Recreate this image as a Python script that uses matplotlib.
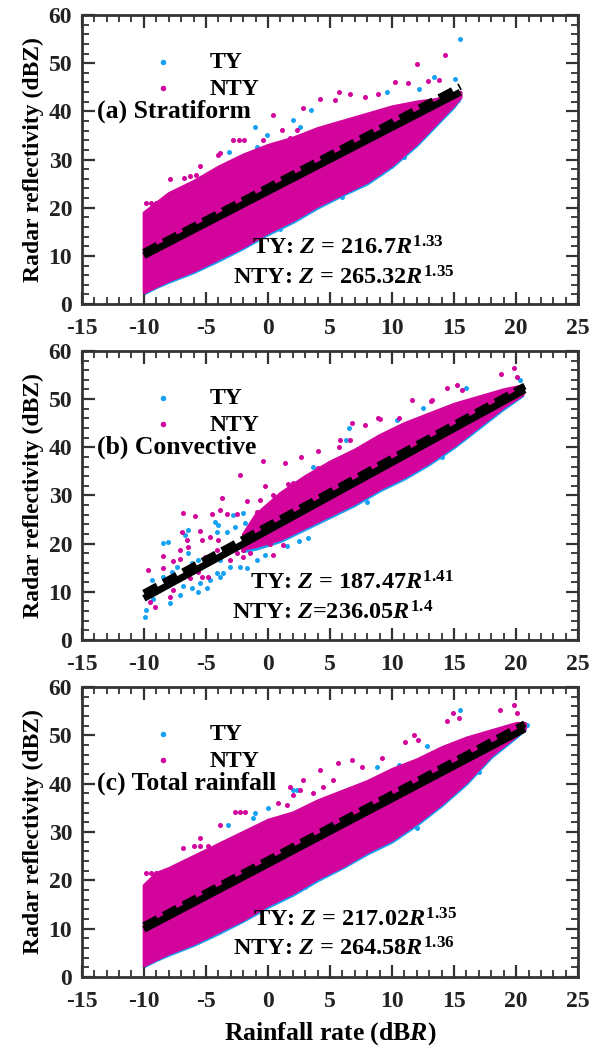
import numpy as np
import matplotlib
matplotlib.use("Agg")
import matplotlib.pyplot as plt
from matplotlib.ticker import MultipleLocator

plt.rcParams["font.family"] = ["Liberation Serif", "DejaVu Serif"]
plt.rcParams["font.weight"] = "bold"
plt.rcParams["axes.labelweight"] = "bold"
plt.rcParams["axes.unicode_minus"] = False
plt.rcParams["mathtext.fontset"] = "custom"
plt.rcParams["mathtext.rm"] = "Liberation Serif:bold"
plt.rcParams["mathtext.bf"] = "Liberation Serif:bold"
plt.rcParams["mathtext.it"] = "Liberation Serif:italic:bold"

TY_COLOR = "#17A2F2"
NTY_COLOR = "#D2049C"

# ---- (a) Stratiform: dense cloud envelopes (dBR -> dBZ)
a_band_x = [-10, -9, -8, -6, -4, -2, 0, 2, 4, 6, 8, 10, 12, 13.5, 15, 15.5]
a_ty_hi = [18.5, 20.5, 22.5, 25, 28, 30.5, 32.5, 34, 36, 37.5, 39, 40.5, 41.5, 42.5, 43.5, 44]
a_ty_lo = [2.2, 3.5, 4.6, 6.6, 9.0, 11.6, 14.5, 17.0, 20.0, 22.6, 25.0, 28.5, 33.0, 37.0, 41.0, 42.8]
a_nty_hi = [19, 21, 23, 25.5, 28.5, 31, 33, 34.5, 36.5, 38, 39.5, 41, 42, 42.5, 43.5, 44]
a_nty_lo = [2.5, 3.8, 5, 7, 9.5, 12, 15, 17.5, 20.5, 23, 25.5, 29, 33.5, 37.5, 41.5, 43]
# scattered points outside the dense cloud
a_ty_x = [-3.1, -2.3, -0.9, -0.1, -1.05, 2.0, 2.6, 3.5, 9.6, 12.2, 13.4, 15.1, 15.3, 15.5,
          -4.5, 1.0, 6.0, 11.0]
a_ty_y = [31.6, 29.4, 32.6, 35.1, 36.7, 38.3, 36.8, 40.2, 44.0, 44.7, 47.2, 46.7, 42.3, 55.0,
          9.2, 15.6, 22.2, 30.6]
a_nty_x = [-9.8, -9.4, -9.0, -8.6, -7.9, -6.8, -6.3, -5.8, -5.5, -4.8, -4.0, -3.9, -2.8,
           -2.3, -1.9, -0.4, 0.4, 1.1, 1.8, 2.3, 2.8, 4.2, 5.4, 5.7, 6.6, 7.8, 8.9, 10.2,
           11.3, 12.0, 12.9, 13.8, 14.3]
a_nty_y = [20.9, 20.9, 20.9, 20.9, 26.0, 26.1, 26.5, 26.8, 28.6, 26.8, 31.0, 31.3, 34.0,
           34.0, 34.0, 34.0, 39.3, 36.1, 34.4, 36.1, 40.6, 42.6, 42.3, 44.0, 43.7, 43.0, 43.6,
           46.0, 45.8, 49.8, 46.4, 46.5, 51.6]

# ---- (b) Convective
b_band_x = [-2, -1, 1, 3, 5, 7, 9, 11, 13, 15, 17, 19, 20.5]
b_ty_hi = [21.5, 25, 29, 32.5, 35.5, 38.5, 41, 43.5, 46, 48, 50, 51.5, 52.5]
b_ty_lo = [18.4, 18.9, 20.5, 23, 25.5, 28, 31, 33.5, 36.5, 40, 44, 48, 50.7]
b_nty_hi = [22, 26, 30.5, 34, 37, 39.5, 42.5, 45, 47, 49, 50.5, 52, 52.8]
b_nty_lo = [19, 19.5, 21, 23.5, 26, 28.5, 31.5, 34, 37, 40.5, 44.5, 48.5, 51]
b_ty_x = [-9.92, -9.79, -9.25, -9.52, -8.98, -9.38, -8.44, -8.17, -7.9, -7.1, -6.83, -6.16,
          -7.77, -7.37, -6.16, -6.43, -5.62, -8.44, -8.04, -6.69, -6.43, -4.28, -4.01, -4.14,
          -3.33, -2.8, -2.66, -1.86, -3.87, -3.07, -2.26, -1.72, -0.92, -0.24, -4.14, -3.6,
          -5.49, -4.95, -5.62, 0.16, 0.70, 0.97, 1.5, 1.5, -1.45, -1.99, -3.87, -4.68,
          12.5, 10.4, 6.5, 3.66, 7.55, 16.0, 20.3, 3.25, 6.3, 2.5, 8.0, 14.0]
b_ty_y = [4.8, 6.2, 8.6, 10.0, 10.4, 12.4, 13.1, 11.1, 7.6, 9.3, 11.1, 10.7,
          14.2, 15.2, 15.9, 18.0, 16.6, 20.1, 20.4, 21.8, 22.8, 24.5, 23.9, 22.5,
          22.5, 25.9, 23.5, 24.2, 16.6, 15.2, 15.2, 14.9, 16.6, 17.6, 13.8, 13.8,
          11.8, 10.7, 10.0, 28.3, 27.7, 24.2, 24.5, 19.4, 19.4, 26.3, 13.1, 12.4,
          48.1, 45.6, 43.9, 36.0, 39.4, 52.2, 53.9, 21.1, 41.5, 20.6, 28.6, 38.0]
b_nty_x = [-0.38, 1.37, -2.26, 1.64, -0.24, -3.74, -1.72, -6.83, -5.89, -4.54, -3.87, -3.33,
           -2.53, -0.92, -0.65, 0.43, -6.96, -5.49, -5.35, -4.68, -4.01, -6.56, -8.44, -7.1,
           -6.43, -9.65, -8.44, -7.64, -7.1, -5.08, -4.14, -3.33, -2.53, -1.99, -3.07, -1.99,
           -1.45, 0.70, 0.16, 0.43, 1.24, -9.52, -9.11, -7.9, -7.64, -6.29, -5.35, -4.81,
           -5.62, -0.38, 0.97, -1.18,
           19.8, 18.8, 20.1, 14.4, 15.2, 15.6, 11.6, 13.1, 9.0, 6.75, 7.8, 10.6, 5.7, 6.6,
           2.7, 4.06, 3.25, 5.0, 4.06, 5.8, 8.9, 13.2, 2.04, 2.04]
b_nty_y = [37.1, 36.8, 34.2, 32.4, 32.0, 29.5, 28.9, 26.4, 25.7, 26.1, 27.0, 26.1,
           26.1, 26.6, 29.0, 30.1, 22.5, 22.7, 20.7, 21.3, 20.7, 20.7, 17.5, 18.7,
           19.2, 14.5, 14.9, 16.3, 16.9, 17.3, 18.7, 19.0, 18.0, 18.7, 16.6, 17.3,
           18.0, 22.1, 20.0, 17.6, 19.7, 7.9, 6.9, 9.0, 10.4, 12.8, 13.0, 13.1,
           14.2, 21.8, 21.4, 20.0,
           56.4, 55.3, 54.6, 52.2, 52.9, 51.9, 49.8, 49.5, 45.8, 45.1, 44.6, 46.0, 40.1, 41.5,
           38.0, 35.6, 32.5, 36.7, 39.3, 41.5, 46.0, 49.8, 32.5, 30.8]

# ---- (c) Total rainfall
c_band_x = [-10, -9, -8, -6, -4, -2, 0, 2, 4, 6, 8, 10, 12, 14, 16, 18, 20, 20.7]
c_ty_hi = [18.5, 20.5, 22, 24.5, 27, 29.5, 32, 33.5, 36, 38, 40, 42.5, 44.5, 47, 49, 50.5, 52, 52.5]
c_ty_lo = [2.2, 3.5, 4.6, 6.6, 9.0, 11.6, 14.5, 17.0, 20.0, 22.6, 25.5, 28.0, 31.5, 35.5, 40.0, 45.5, 49.6, 51.2]
c_nty_hi = [19, 21.5, 22.5, 25, 27.5, 30, 32.5, 34, 36.5, 38.5, 40.5, 43, 45, 47.5, 49.5, 51, 52.5, 52.5]
c_nty_lo = [2.5, 3.8, 5, 7, 9.5, 12, 15, 17.5, 20.5, 23, 26, 28.5, 32, 36, 40.5, 46, 50, 51.5]
c_ty_x = [-3.2, -1.18, -1.05, 0.03, 2.04, 2.3, 8.8, 10.6, 12.8, 15.5, 20.9, -5.0, 3.0, 12.0, 17.0]
c_ty_y = [31.5, 32.8, 33.9, 34.9, 38.7, 38.7, 43.5, 43.9, 47.7, 55.3, 52.2, 8.0, 18.6, 30.8, 42.4]
c_nty_x = [-9.8, -9.4, -9.0, -8.6, -6.83, -6.0, -5.49, -4.81, -5.49, -3.87, -2.66, -2.26,
           -1.86, 0.83, 1.5, 2.04, 2.58, 2.85, 1.77, 4.2, 5.67, 6.75, 7.55, 9.2, 11.05, 11.8,
           12.1, 14.4, 14.9, 15.4, 18.7, 19.8, 20.1, 5.27, 4.46, 3.66]
c_nty_y = [21.5, 21.5, 21.5, 21.5, 26.7, 27.0, 27.0, 27.1, 28.8, 31.5, 34.2, 34.2,
           34.2, 36.0, 35.6, 37.7, 38.7, 40.8, 39.4, 42.9, 44.2, 44.9, 43.5, 45.3, 48.7, 50.1,
           49.1, 52.9, 54.6, 53.6, 55.3, 56.3, 54.6, 40.8, 39.4, 38.0]

# Z = a R^b fits (TY, NTY) and the end of each fitted line in dBR
fit_a = [(216.7, 1.33), (265.32, 1.35)]
fit_b = [(187.47, 1.41), (236.05, 1.4)]
fit_c = [(217.02, 1.35), (264.58, 1.36)]
fit_xmax = [15.5, 20.7, 20.7]

titles = ["(a) Stratiform", "(b) Convective", "(c) Total rainfall"]
eq_ty = [r"TY: $Z$ = 216.7$R^{1.33}$", r"TY: $Z$ = 187.47$R^{1.41}$", r"TY: $Z$ = 217.02$R^{1.35}$"]
eq_nty = [r"NTY: $Z$ = 265.32$R^{1.35}$", r"NTY: $Z$=236.05$R^{1.4}$", r"NTY: $Z$ = 264.58$R^{1.36}$"]
eq_pos = [((-1.3, 11.6), (-2.8, 5.4)), ((-1.45, 11.8), (-2.9, 5.6)), ((-1.2, 11.8), (-2.8, 5.9))]

panels = [
    (a_band_x, a_ty_lo, a_ty_hi, a_nty_lo, a_nty_hi, a_ty_x, a_ty_y, a_nty_x, a_nty_y, fit_a),
    (b_band_x, b_ty_lo, b_ty_hi, b_nty_lo, b_nty_hi, b_ty_x, b_ty_y, b_nty_x, b_nty_y, fit_b),
    (c_band_x, c_ty_lo, c_ty_hi, c_nty_lo, c_nty_hi, c_ty_x, c_ty_y, c_nty_x, c_nty_y, fit_c),
]

fig = plt.figure(figsize=(5.93, 10.55), dpi=100)
boxes = [(0.138, 0.7118, 0.837, 0.274), (0.138, 0.3934, 0.837, 0.274), (0.138, 0.0739, 0.837, 0.275)]

for i, (bx, tlo, thi, nlo, nhi, tx, ty, nx, ny, fit) in enumerate(panels):
    ax = fig.add_axes(boxes[i])
    # TY cloud first, NTY drawn on top
    ax.fill_between(bx, tlo, thi, color=TY_COLOR, lw=2, edgecolor=TY_COLOR, zorder=1)
    ax.scatter(tx, ty, s=13, color=TY_COLOR, lw=0, zorder=2, label="TY")
    ax.fill_between(bx, nlo, nhi, color=NTY_COLOR, lw=2.5, edgecolor=NTY_COLOR, zorder=3)
    ax.scatter(nx, ny, s=13, color=NTY_COLOR, lw=0, zorder=4, label="NTY")

    xf = np.array([-10, fit_xmax[i]])
    (a1, b1), (a2, b2) = fit
    ax.plot(xf, 10 * np.log10(a1) + b1 * xf, color="black", lw=5, zorder=5,
            solid_capstyle="butt")
    ax.plot(xf, 10 * np.log10(a2) + b2 * xf, color="black", lw=5, ls=(0, (2.2, 1.0)),
            zorder=6)

    ax.set_xlim(-15, 25)
    ax.set_ylim(0, 60)
    ax.xaxis.set_major_locator(MultipleLocator(5))
    ax.xaxis.set_minor_locator(MultipleLocator(1))
    ax.yaxis.set_major_locator(MultipleLocator(10))
    ax.yaxis.set_minor_locator(MultipleLocator(2))
    ax.tick_params(which="both", direction="in", top=True, right=True, colors="#333333",
                   labelcolor="#222222", labelsize=17)
    ax.tick_params(which="major", length=9, width=1.6)
    ax.tick_params(which="minor", length=5, width=1.3)
    ax.tick_params(axis="x", which="major", pad=10)
    ax.tick_params(axis="y", which="major", pad=7)
    for sp in ax.spines.values():
        sp.set_linewidth(2)
        sp.set_color("#333333")

    ax.set_ylabel("Radar reflectivity (dBZ)", fontsize=17, labelpad=3)
    ax.text(-13.8, 40, titles[i], fontsize=18.5, fontweight="bold", va="center", ha="left",
            zorder=7)
    ax.text(*eq_pos[i][0], eq_ty[i], fontsize=17.5, va="center", ha="left", zorder=7)
    ax.text(*eq_pos[i][1], eq_nty[i], fontsize=17.5, va="center", ha="left", zorder=7)

    ax.legend(loc="upper left", bbox_to_anchor=(0.115, 0.905), frameon=False,
              fontsize=17, handlelength=1.2, handletextpad=1.4, labelspacing=0.2,
              markerscale=1.1, borderaxespad=0)

    if i == 2:
        ax.set_xlabel(r"Rainfall rate (dB$R$)", fontsize=18.5, labelpad=6)

fig.savefig("out.png", dpi=100)
